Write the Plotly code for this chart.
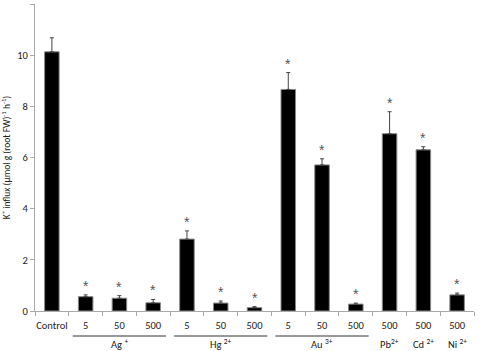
import plotly.graph_objects as go

categories = ["Control", "5", "50", "500", "5", "50", "500", "5", "50", "500", "500", "500", "500"]
values = [10.13, 0.56, 0.50, 0.32, 2.81, 0.31, 0.13, 8.66, 5.71, 0.27, 6.93, 6.30, 0.63]
errors = [0.55, 0.07, 0.10, 0.13, 0.32, 0.08, 0.04, 0.66, 0.24, 0.04, 0.86, 0.12, 0.07]
significant = [False, True, True, True, True, True, True, True, True, True, True, True, True]
groups = [("Ag <sup>+</sup>", 1, 3), ("Hg <sup>2+</sup>", 4, 6), ("Au <sup>3+</sup>", 7, 9),
          ("Pb<sup>2+</sup>", 10, 10), ("Cd <sup>2+</sup>", 11, 11), ("Ni <sup>2+</sup>", 12, 12)]
yticks = [0, 2, 4, 6, 8, 10, 12]

x = list(range(len(categories)))
font = dict(family="Carlito, Liberation Sans, Noto Sans, sans-serif", size=10.5, color="#222")

fig = go.Figure()
fig.add_trace(go.Bar(
    x=x, y=values, width=0.43,
    marker=dict(color="black", line=dict(color="#888", width=1)),
    error_y=dict(type="data", symmetric=False, array=errors, arrayminus=[0] * len(errors),
                 color="#444", thickness=1, width=2),
    showlegend=False, hoverinfo="skip",
))

ann = []
for xi, v, e, s in zip(x, values, errors, significant):
    if s:
        ann.append(dict(x=xi, y=v + e, xref="x", yref="y", text="*", showarrow=False,
                        yshift=9, font=dict(family="Liberation Sans, sans-serif", size=14, color="#555")))

ph = 307.0
def py2paper(py):
    return (311 - py) / ph

shapes = []
for name, a, b in groups:
    if b > a:
        shapes.append(dict(type="line", xref="x", yref="paper", x0=a - 0.38, x1=b + 0.38,
                           y0=py2paper(336), y1=py2paper(336), line=dict(color="#333", width=1)))
    ann.append(dict(x=(a + b) / 2, y=py2paper(344), xref="x", yref="paper", text=name,
                    showarrow=False, yanchor="middle", font=font))

fig.update_layout(
    width=480, height=351,
    margin=dict(l=35, r=6, t=4, b=40),
    plot_bgcolor="white", paper_bgcolor="white",
    font=font,
    annotations=ann, shapes=shapes,
    xaxis=dict(range=[-0.5, len(categories) - 0.5], tickmode="array", tickvals=x, ticktext=categories,
               ticks="", showline=True, linecolor="#aaa", linewidth=1, showgrid=False, zeroline=False,
               tickfont=font, automargin=False, ticklabelstandoff=4,
               minor=dict(tickmode="array", tickvals=[i - 0.5 for i in range(len(categories) + 1)],
                          ticks="outside", ticklen=4, tickcolor="#aaa", tickwidth=1, showgrid=False)),
    yaxis=dict(range=[0, 12], tickmode="array", tickvals=yticks, ticks="outside", ticklen=4,
               tickcolor="#aaa", showline=True, linecolor="#aaa", linewidth=1, showgrid=False,
               zeroline=False, tickfont=font, automargin=False,
               title=dict(text="K<sup>+</sup> influx (µmol g (root FW)<sup>-1</sup> h<sup>-1</sup>)",
                          font=dict(family=font["family"], size=9.5, color="#222"), standoff=6)),
    bargap=0.5,
)

fig.write_html("out.html", config={"displayModeBar": False},
               post_script="document.body.style.margin='0';document.body.style.padding='0';")
